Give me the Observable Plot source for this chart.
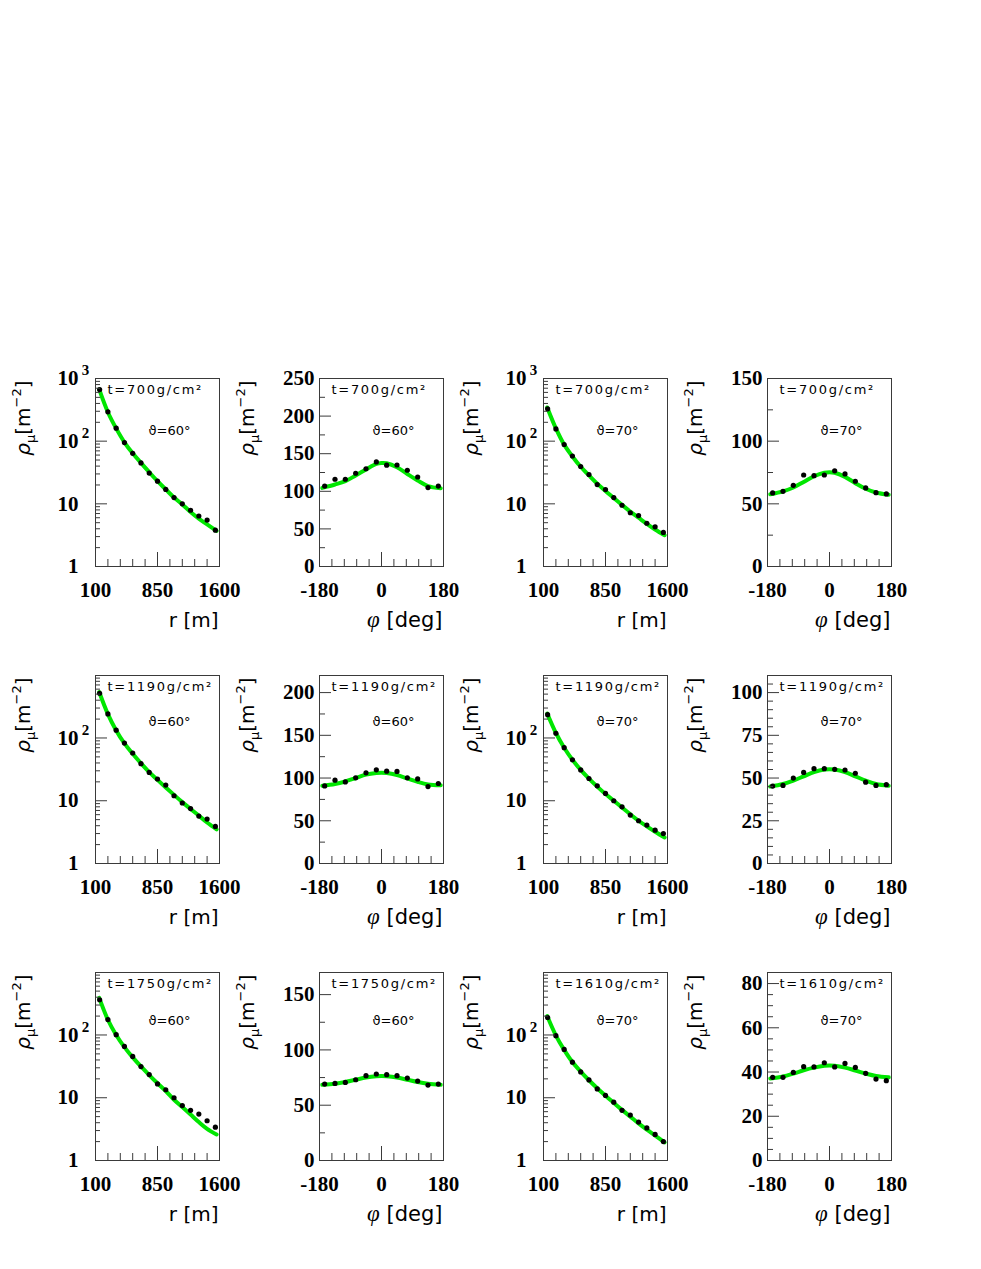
<!DOCTYPE html>
<html><head><meta charset="utf-8">
<script src="https://cdn.jsdelivr.net/npm/d3@7"></script>
<script src="https://cdn.jsdelivr.net/npm/@observablehq/plot@0.6"></script>
<style>
html,body{margin:0;padding:0;background:#fff;}
#root{position:relative;width:981px;height:1269px;background:#fff;overflow:hidden;}
#root .cell{position:absolute;}
#root svg{display:block;overflow:visible;}
</style></head><body><div id="root"></div>
<script>
// ---------------- data ----------------
const rBins = [150,250,350,450,550,650,750,850,950,1050,1150,1250,1350,1450,1550];
const rCurveGrid = [145,250,350,450,550,650,750,850,950,1050,1150,1250,1350,1450,1565];
const phiBins = [-165,-135,-105,-75,-45,-15,15,45,75,105,135,165];
const phiCurveGrid = [-172,-135,-105,-75,-45,-15,0,15,45,75,105,135,172];

const depthLabels = ["t=700g/cm²","t=1190g/cm²","t=1750g/cm²","t=1610g/cm²"];
const zenithLabels = ["ϑ=60°","ϑ=70°"];
const xTitles = ["r [m]","φ [deg]"];
const yTitle = "ρμ[m-2]";

const rTickLabels = [100,850,1600];
const phiTickLabels = [-180,0,180];
const rMinorTicks = [250,400,550,700,1000,1150,1300,1450];
const phiMinorTicks = [-144,-108,-72,-36,36,72,108,144];
const logTickLabels = [1,10,100,1000];
const logExponents = {100:"2",1000:"3"};

// lateral distributions (muon density vs r)
const rho_r_700_60  = [667,294,161,95,64,45,31,23,17,12.6,10,7.9,6.4,5.5,3.8];
const fit_r_700_60  = [670,290,160,96,64,45,32,23,17,12.6,9.8,7.4,5.8,4.7,3.7];
const rho_r_700_70  = [328,157,88.5,58,39.4,29.4,20.3,16.9,12.6,9.5,7.2,6.5,4.9,4.3,3.5];
const fit_r_700_70  = [345,160,88,57,39,28.5,21,16,12.4,9.6,7.5,6.0,4.8,3.9,3.15];
const rho_r_1190_60 = [516,242,133,83,57.6,38.9,28.3,22.2,17.8,12.0,9.2,7.5,5.7,5.1,3.9];
const fit_r_1190_60 = [540,240,132,82,56,39.5,28.5,21.5,16.3,12.4,9.5,7.4,5.8,4.5,3.5];
const rho_r_1190_70 = [235,119,70,45,31,22.6,17.3,13.1,10,8.0,5.9,4.8,4.1,3.4,3.0];
const fit_r_1190_70 = [245,120,70,45,31,22.5,16.8,12.8,10,7.8,6.1,4.8,3.9,3.2,2.6];
const rho_r_1750_60 = [364,176,101,65.8,45.5,31.4,23.4,16.6,13.4,10,7.5,6.3,5.5,4.3,3.4];
const fit_r_1750_60 = [390,175,100,64,44,31.5,23,17,12.8,9.3,7.1,5.4,4.1,3.2,2.6];
const rho_r_1610_70 = [190,97.5,58.9,36.9,25.8,19.2,13.8,10.9,8.5,6.3,5.3,4.1,3.3,2.6,2.0];
const fit_r_1610_70 = [200,98,58,37,26,19,14.2,10.8,8.3,6.4,5.0,3.9,3.1,2.5,1.95];

// azimuthal distributions (muon density vs phi)
const rho_phi_700_60  = [107,116,116,124,130,139,134.7,135,128,119,105,107];
const fit_phi_700_60  = [104.5,109,113.5,121,129,136.4,137.7,137.3,132,123,114.4,107,104];
const rho_phi_700_70  = [58.7,60,64.8,73,72.5,73,76.3,73.9,68,62.7,58.9,57.9];
const fit_phi_700_70  = [57.6,60,63,67.5,72,74.8,75.2,74.8,71.5,66.5,62,59,57.2];
const rho_phi_1190_60 = [90.8,97.5,95.5,100.2,106.1,109.6,108,107.7,100.2,99,90,93.6];
const fit_phi_1190_60 = [91,93,96,100,104,106,106.3,106,103.5,99.5,95.5,92.5,91.5];
const rho_phi_1190_70 = [45.3,45.7,50,53.3,55.5,55.5,55.1,54.7,52.8,47.6,45.7,46.1];
const fit_phi_1190_70 = [45,46.5,48.5,51,53.5,55,55.2,55,53.5,51,48.5,46.5,45.5];
const rho_phi_1750_60 = [69.1,69.7,70.6,73,76.7,78.2,77.6,76.7,74.5,71.8,68.2,69.1];
const fit_phi_1750_60 = [68.5,69.5,71,73,75,76.2,76.4,76.2,75,73,71,69.5,68.5];
const rho_phi_1610_70 = [37.6,37.6,39.8,42.4,42.3,44.2,42.3,43.9,42.1,39.4,36.8,36.1];
const fit_phi_1610_70 = [37.1,38,39.3,40.8,42,42.8,42.9,42.8,42,40.7,39.3,38.2,37.6];

// y-axis ranges
const phiYMax   = [250,150,220,110,170,85];
const phiYStep  = [50,50,50,25,50,20];
const phiYMinor = [25,25,25,5,25,5];
const logYMax   = [1000,1000,990,990,990,990];

// ---------------- layout ----------------
const colLeft = [95,319,543,767];
const rowTop = [378,675,972];
const W=224,H=283,mL=95,mR=5,mT=25,mB=70,FW=124,FH=188;
const thetaDy = [52,46,48];
const SERIF = "'Liberation Serif','Times New Roman',serif";
const SANS = "'DejaVu Sans',sans-serif";
const INK = "#3a3a3a";
const GREEN = "#00e600";

const panels = [
  {row:0,col:0,kind:"r",  d:0,z:0,pts:rho_r_700_60,  fit:fit_r_700_60,  li:0},
  {row:0,col:1,kind:"phi",d:0,z:0,pts:rho_phi_700_60,fit:fit_phi_700_60,li:0},
  {row:0,col:2,kind:"r",  d:0,z:1,pts:rho_r_700_70,  fit:fit_r_700_70,  li:1},
  {row:0,col:3,kind:"phi",d:0,z:1,pts:rho_phi_700_70,fit:fit_phi_700_70,li:1},
  {row:1,col:0,kind:"r",  d:1,z:0,pts:rho_r_1190_60,  fit:fit_r_1190_60,  li:2},
  {row:1,col:1,kind:"phi",d:1,z:0,pts:rho_phi_1190_60,fit:fit_phi_1190_60,li:2},
  {row:1,col:2,kind:"r",  d:1,z:1,pts:rho_r_1190_70,  fit:fit_r_1190_70,  li:3},
  {row:1,col:3,kind:"phi",d:1,z:1,pts:rho_phi_1190_70,fit:fit_phi_1190_70,li:3},
  {row:2,col:0,kind:"r",  d:2,z:0,pts:rho_r_1750_60,  fit:fit_r_1750_60,  li:4},
  {row:2,col:1,kind:"phi",d:2,z:0,pts:rho_phi_1750_60,fit:fit_phi_1750_60,li:4},
  {row:2,col:2,kind:"r",  d:3,z:1,pts:rho_r_1610_70,  fit:fit_r_1610_70,  li:5},
  {row:2,col:3,kind:"phi",d:3,z:1,pts:rho_phi_1610_70,fit:fit_phi_1610_70,li:5}
];

function makePanel(p) {
  const isR = p.kind === "r";
  const xs = isR ? rBins : phiBins;
  const xc = isR ? rCurveGrid : phiCurveGrid;
  const pts = xs.map((x,i)=>({x, y:p.pts[i]}));
  const fit = xc.map((x,i)=>({x, y:p.fit[i]}));
  let yMax, yMajor, yMinor, yLabels, fmt, pad, minorLen;
  if (isR) {
    yMax = logYMax[p.li];
    yMajor = logTickLabels.filter(v=>v<=yMax);
    yMinor = [];
    for (const dd of [1,10,100]) for (let k=2;k<=9;k++) if (dd*k<=yMax) yMinor.push(dd*k);
    yLabels = yMajor;
    fmt = d => d>=100 ? "10" : String(d);
    pad = 17; minorLen = 5;
  } else {
    yMax = phiYMax[p.li];
    yMajor = d3.range(0, yMax+1e-9, phiYStep[p.li]);
    yMinor = d3.range(0, yMax+1e-9, phiYMinor[p.li]).filter(v=>!yMajor.includes(v));
    yLabels = yMajor;
    fmt = d => String(d);
    pad = 5; minorLen = 6;
  }
  const marks = [
    Plot.line(fit, {x:"x", y:"y", stroke:GREEN, strokeWidth:4, curve:"catmull-rom"}),
    Plot.dot(pts, {x:"x", y:"y", r:2.6, fill:"#000", stroke:"none"}),
    Plot.tickX(isR ? rMinorTicks : phiMinorTicks, {x:d=>d, insetTop:FH-7, stroke:INK}),
    Plot.tickX(isR ? [850] : [0], {x:d=>d, insetTop:FH-14, stroke:INK}),
    Plot.tickY(yMinor, {y:d=>d, insetRight:FW-minorLen, stroke:INK}),
    Plot.tickY(yMajor, {y:d=>d, insetRight:FW-12, stroke:INK}),
    Plot.frame({stroke:INK}),
    Plot.axisX(isR ? rTickLabels : phiTickLabels, {tickSize:0, tickPadding:16, tickFormat:d=>String(d), label:null,
      fontSize:21, fontWeight:"bold", fontFamily:SERIF, fill:"#000"}),
    Plot.axisY(yLabels, {tickSize:0, tickPadding:pad, tickFormat:fmt, label:null,
      fontSize:21, fontWeight:"bold", fontFamily:SERIF, fill:"#000"}),
    Plot.text([depthLabels[p.d]], {frameAnchor:"top-left", lineAnchor:"middle", dx:12, dy:11, text:d=>d, textAnchor:"start",
      fontSize:13, fontFamily:SANS, fill:"#000"}),
    Plot.text([zenithLabels[p.z]], {frameAnchor:"top-left", lineAnchor:"middle", dx:74, dy:thetaDy[p.row], text:d=>d, textAnchor:"middle",
      fontSize:13, fontFamily:SANS, fill:"#000"}),
    Plot.text([xTitles[isR?0:1]], {frameAnchor:"bottom-right", lineAnchor:"middle", dx:-1, dy:54, text:d=>d, textAnchor:"end",
      fontSize:isR?20:21, fontFamily:SANS, fill:"#000"}),
    Plot.text([yTitle], {frameAnchor:"top-left", lineAnchor:"middle", dx:-72, dy:2, rotate:-90, text:d=>d, textAnchor:"end",
      fontSize:20, fontFamily:SANS, fill:"#000"})
  ];
  if (isR) {
    marks.push(Plot.text(yLabels.filter(v=>v>=100), {y:d=>d, frameAnchor:"left", dx:-10, dy:-8,
      text:d=>logExponents[d], textAnchor:"middle", fontSize:15, fontWeight:"bold", fontFamily:SERIF, fill:"#000"}));
  }
  const svg = Plot.plot({
    width:W, height:H, marginLeft:mL, marginRight:mR, marginTop:mT, marginBottom:mB,
    x:{type:"linear", domain: isR ? [100,1600] : [-180,180]},
    y:{type: isR ? "log" : "linear", domain:[isR?1:0, yMax]},
    style:{background:"transparent", overflow:"visible"},
    marks
  });
  svg.querySelectorAll("text").forEach(t => {
    const s = t.textContent;
    if (s === yTitle) {
      t.innerHTML = '<tspan font-style="italic">ρ</tspan><tspan font-size="13" dy="5">μ</tspan><tspan dy="-5">[m</tspan>' +
        '<tspan font-size="13" dy="-9">−2</tspan><tspan dy="9">]</tspan>';
    } else if (depthLabels.includes(s)) {
      t.style.letterSpacing = "1.7px";
    } else if (s === xTitles[1]) {
      t.innerHTML = '<tspan font-family="Liberation Serif" font-style="italic" font-size="23">φ</tspan> [deg]';
    }
  });
  const cell = document.createElement("div");
  cell.className = "cell";
  cell.style.left = (colLeft[p.col]-mL) + "px";
  cell.style.top = (rowTop[p.row]-mT) + "px";
  cell.appendChild(svg);
  document.getElementById("root").appendChild(cell);
}
panels.forEach(makePanel);
</script></body></html>
